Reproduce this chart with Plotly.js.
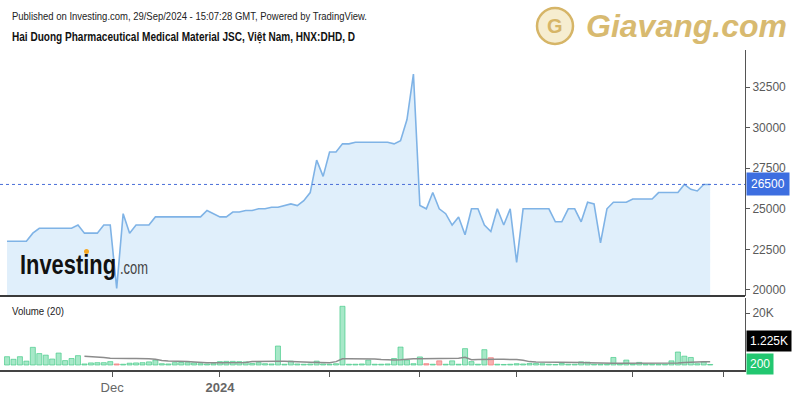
<!DOCTYPE html>
<html>
<head>
<meta charset="utf-8">
<script src="https://cdn.plot.ly/plotly-3.0.1.min.js"></script>
<style>html,body{margin:0;padding:0;background:#fff;}#chart{width:800px;height:400px;}</style>
</head>
<body>
<div id="chart"></div>
<script>
// Daily close prices (VND), one per trading session shown
const price = [
  23000, 23000, 23000, 23000, 23500, 23800, 23800, 23800, 23800, 23800,
  23800, 24000, 23500, 23500, 23500, 24000, 24000, 20100, 24700, 23500,
  24000, 24000, 24000, 24500, 24500, 24500, 24500, 24500, 24500, 24500,
  24500, 24900, 24700, 24500, 24500, 24800, 24800, 24900, 24900, 25000,
  25000, 25100, 25100, 25200, 25300, 25200, 25500, 26000, 28000, 27000,
  28500, 28500, 29000, 29000, 29100, 29100, 29100, 29100, 29100, 29100,
  29000, 29200, 30500, 33300, 25200, 25000, 26000, 25000, 24700, 24000,
  24500, 23400, 25000, 25000, 24000, 23600, 25000, 24000, 25000, 21700,
  25000, 25000, 25000, 25000, 25000, 24200, 24200, 25000, 25000, 24200,
  25400, 25300, 22900, 25000, 25400, 25400, 25400, 25600, 25600, 25600,
  25600, 26000, 26000, 26000, 26000, 26500, 26200, 26100, 26500, 26500
];
// Volume per session
const volume = [
  3200, 2200, 3200, 1500, 6800, 4400, 3800, 2300, 4600, 1700,
  2500, 3600, 400, 800, 900, 900, 1300, 400, 300, 700,
  800, 900, 1200, 1900, 500, 400, 900, 1000, 900, 800,
  500, 400, 500, 1300, 1400, 1400, 1300, 1200, 600, 900,
  500, 400, 7300, 300, 1500, 400, 300, 400, 1500, 400,
  300, 500, 22600, 300, 300, 400, 1900, 300, 300, 400,
  2500, 6900, 1900, 500, 3100, 500, 300, 1600, 300, 1600,
  300, 6300, 1300, 300, 5900, 2800, 300, 200, 300, 500,
  400, 600, 600, 500, 300, 200, 600, 300, 300, 1200,
  1100, 300, 300, 300, 2900, 400, 1900, 300, 1000, 300,
  300, 300, 300, 1600, 5000, 3400, 2900, 500, 1200, 200
];
// Volume moving average (20)
const volumeMA = [
  null, null, null, null, null, null, null, null, null, null,
  null, null, 3400, 3300, 3100, 2900, 2600, 2500, 2500, 2500,
  2500, 2500, 2400, 2200, 1700, 1500, 1500, 1400, 1300, 1200,
  1000, 900, 900, 900, 900, 900, 900, 1000, 1300, 1400,
  1400, 1400, 1400, 1400, 1400, 1300, 1200, 1100, 1000, 1000,
  900, 1300, 2400, 2400, 2400, 2400, 2400, 2300, 2100, 1900,
  1900, 2000, 2300, 2400, 2400, 2400, 2400, 2400, 2400, 2400,
  2600, 3000, 2000, 2100, 2200, 2200, 2200, 2200, 2200, 2100,
  1800, 1300, 1200, 1200, 1200, 1200, 1200, 1200, 1100, 1000,
  900, 800, 700, 700, 700, 700, 700, 700, 700, 700,
  700, 700, 700, 700, 800, 1000, 1200, 1200, 1225, 1225
];
// sessions whose volume bar is red (close below open)
const downBars = [17, 65, 67, 75];
// x-axis ticks (session index positions) and labels
const tickPos = [16.3, 33, 50, 64, 79, 97, 111];
const tickLabels = ['Dec', '<b>2024</b>', '', '', '', '', ''];
const priceTicks = [20000, 22500, 25000, 27500, 30000, 32500];

const idx = price.map((_, i) => i);
const lastPrice = price[price.length - 1];
const lastVol = volume[volume.length - 1];
const lastMA = volumeMA[volumeMA.length - 1];

const barFill = idx.map(i => downBars.includes(i) ? 'rgba(246,150,150,0.75)' : 'rgba(120,220,170,0.65)');
const barLine = idx.map(i => downBars.includes(i) ? 'rgba(240,120,120,0.9)' : 'rgba(60,200,130,0.8)');

const fmtK = v => (v >= 1000 ? (v / 1000).toFixed(3).replace(/0+$/, '').replace(/\.$/, '') + 'K' : String(v));

const traces = [
  {
    x: idx, y: price, type: 'scatter', mode: 'lines',
    line: {color: '#7fb3e6', width: 1.6},
    fill: 'tozeroy', fillcolor: 'rgba(214,234,250,0.75)',
    xaxis: 'x', yaxis: 'y', hoverinfo: 'skip'
  },
  {
    x: idx, y: volume, type: 'bar', width: 0.78,
    marker: {color: barFill, line: {color: barLine, width: 0.8}},
    xaxis: 'x', yaxis: 'y2', hoverinfo: 'skip'
  },
  {
    x: idx, y: volumeMA, type: 'scatter', mode: 'lines',
    line: {color: '#8c8c8c', width: 1.5},
    xaxis: 'x', yaxis: 'y2', hoverinfo: 'skip', connectgaps: false
  }
];

const W = 745, TOP = 50, BOT = 370, H = BOT - TOP;
const px = x => x / W;
const py = y => (BOT - y) / H;
const SANS = 'Liberation Sans, Arial, sans-serif';
const tickFont = {family: SANS, size: 12, color: '#5a5a5a'};

// condensed texts: [annotation index, left x in px, width in px]
const condensed = [[0, 12, 355], [1, 12, 343], [2, 12, 52], [3, 20, 96], [4, 120, 28]];

const layout = {
  width: 800, height: 400,
  margin: {l: 0, r: 55, t: TOP, b: 400 - BOT},
  paper_bgcolor: '#fff', plot_bgcolor: '#fff',
  showlegend: false,
  bargap: 0,
  xaxis: {
    range: [-1.09, 114.4], anchor: 'y2',
    showgrid: false, zeroline: false,
    showline: true, linecolor: '#444', linewidth: 1.5,
    ticks: 'outside', ticklen: 5, tickcolor: '#555', tickwidth: 1,
    tickmode: 'array', tickvals: tickPos, ticktext: tickLabels,
    tickfont: {family: SANS, size: 13, color: '#666'}
  },
  yaxis: {
    domain: [py(296), 1], side: 'right', anchor: 'x',
    range: [19630, 34780],
    showgrid: false, zeroline: false,
    showline: true, linecolor: '#555', linewidth: 1,
    ticks: 'outside', ticklen: 4, tickcolor: '#555',
    tickmode: 'array', tickvals: priceTicks, ticktext: priceTicks.map(String),
    tickfont: tickFont
  },
  yaxis2: {
    domain: [0, py(298)], side: 'right', anchor: 'x',
    range: [-1925, 25800],
    showgrid: false, zeroline: false,
    showline: true, linecolor: '#555', linewidth: 1,
    ticks: 'outside', ticklen: 4, tickcolor: '#555',
    tickmode: 'array', tickvals: [20000], ticktext: ['20K'],
    tickfont: tickFont
  },
  shapes: [
    {type: 'line', xref: 'paper', yref: 'y', x0: 0, x1: 1, y0: lastPrice, y1: lastPrice,
     line: {color: '#4a6fd8', width: 1, dash: 'dot'}},
    {type: 'line', xref: 'paper', yref: 'paper', x0: 0, x1: 1, y0: py(296), y1: py(296),
     line: {color: '#3a3a3a', width: 2}},
    {type: 'circle', xref: 'paper', yref: 'paper', x0: px(537), x1: px(573), y0: py(44), y1: py(8),
     fillcolor: 'rgba(236,214,150,0.45)', line: {color: '#d6b567', width: 2.5}},
    {type: 'circle', xref: 'paper', yref: 'paper', x0: px(84), x1: px(89), y0: py(254), y1: py(249),
     fillcolor: '#f5a623', line: {width: 0}}
  ],
  annotations: [
    {xref: 'paper', yref: 'paper', x: px(12), y: py(16), xanchor: 'left', yanchor: 'middle', showarrow: false,
     text: 'Published on Investing.com, 29/Sep/2024 - 15:07:28 GMT, Powered by TradingView.',
     font: {family: SANS, size: 11.5, color: '#222'}},
    {xref: 'paper', yref: 'paper', x: px(12), y: py(37), xanchor: 'left', yanchor: 'middle', showarrow: false,
     text: 'Hai Duong Pharmaceutical Medical Material JSC, Việt Nam, HNX:DHD, D',
     font: {family: SANS, size: 12, color: '#111', weight: 'bold'}},
    {xref: 'paper', yref: 'paper', x: px(12), y: py(311), xanchor: 'left', yanchor: 'middle', showarrow: false,
     text: 'Volume (20)',
     font: {family: SANS, size: 11.5, color: '#222'}},
    {xref: 'paper', yref: 'paper', x: px(20), y: py(264), xanchor: 'left', yanchor: 'middle', showarrow: false,
     text: 'Investing',
     font: {family: SANS, size: 28, color: '#111', weight: 'bold'}},
    {xref: 'paper', yref: 'paper', x: px(120), y: py(268), xanchor: 'left', yanchor: 'middle', showarrow: false,
     text: '.com',
     font: {family: SANS, size: 18, color: '#444'}},
    {xref: 'paper', yref: 'paper', x: px(555), y: py(26), xanchor: 'center', yanchor: 'middle', showarrow: false,
     text: 'G',
     font: {family: SANS, size: 20, color: '#d6b567', weight: 'bold'}},
    {xref: 'paper', yref: 'paper', x: px(584), y: py(26), xanchor: 'left', yanchor: 'middle', showarrow: false,
     text: 'Giavang.com',
     font: {family: SANS, size: 32, color: '#d8ba70', weight: 'bold', style: 'italic'}},
    {xref: 'paper', yref: 'y', x: 1, y: lastPrice, xanchor: 'left', yanchor: 'middle', xshift: 1, showarrow: false,
     text: String(lastPrice), bgcolor: '#3d6ee0', borderpad: 4,
     font: {family: SANS, size: 12, color: '#fff'}},
    {xref: 'paper', yref: 'y2', x: 1, y: lastMA, xanchor: 'left', yanchor: 'middle', xshift: 1, yshift: 21, showarrow: false,
     text: fmtK(lastMA), bgcolor: '#000', borderpad: 3,
     font: {family: SANS, size: 12, color: '#fff'}},
    {xref: 'paper', yref: 'y2', x: 1, y: lastVol, xanchor: 'left', yanchor: 'middle', xshift: 1, showarrow: false,
     text: fmtK(lastVol), bgcolor: '#22c770', borderpad: 3,
     font: {family: SANS, size: 12, color: '#fff'}}
  ]
};

Plotly.newPlot('chart', traces, layout, {staticPlot: true, displayModeBar: false}).then(() => {
  const gd = document.getElementById('chart');
  const host = gd.getBoundingClientRect();
  const groups = gd.querySelectorAll('g.annotation');
  condensed.forEach(([ai, left, width]) => {
    let g = null;
    groups.forEach(el => { if (el.getAttribute('data-index') === String(ai)) g = el; });
    if (!g) return;
    const t = g.querySelector('text.annotation-text');
    if (!t) return;
    t.setAttribute('textLength', width);
    t.setAttribute('lengthAdjust', 'spacingAndGlyphs');
    const r = t.getBoundingClientRect();
    const dx = (host.left + left) - r.left;
    const x0 = parseFloat(t.getAttribute('x') || '0');
    t.setAttribute('x', x0 + dx);
    t.querySelectorAll('tspan[x]').forEach(ts => ts.setAttribute('x', parseFloat(ts.getAttribute('x')) + dx));
  });
});
</script>
</body>
</html>
